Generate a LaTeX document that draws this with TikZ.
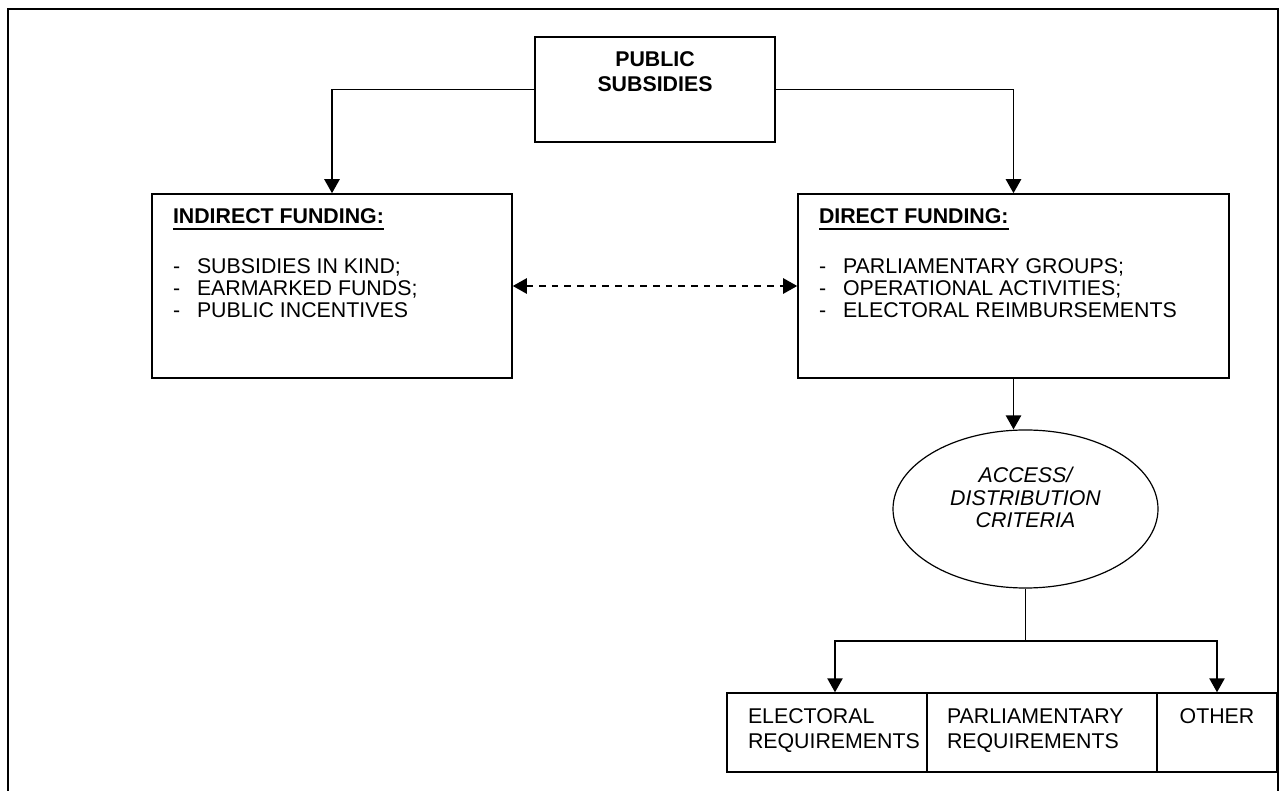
\documentclass[tikz,border=0pt]{standalone}
\usepackage{fontspec}
\setmainfont{Liberation Sans}
\usetikzlibrary{arrows.meta,shapes.geometric}
\newcommand{\ulhead}[1]{\setbox0\hbox{\bfseries #1}\rlap{\rule[-4.6pt]{\wd0}{1.4pt}}\box0}
\newcommand{\itm}[1]{\makebox[18pt][l]{-}#1}
\newcommand{\boxtext}[4]{\parbox[c][#2][t]{#1}{\raggedright\leftskip=#3\relax\rule{0pt}{22.5pt}#4}}
\begin{document}
\begin{tikzpicture}[x=0.75pt,y=-0.75pt,
  box/.style={draw, line width=1.2pt, inner sep=0pt, font=\fontsize{16}{16.3}\selectfont},
  lowbox/.style={draw, line width=1.1pt, inner sep=0pt, font=\fontsize{16}{18.75}\selectfont},
  crit/.style={draw, ellipse, line width=0.9pt, inner sep=0pt, minimum width=198.75pt, minimum height=118.5pt, align=center, font=\fontsize{16}{17}\selectfont\itshape},
  tip/.tip={Triangle[length=10.5pt,width=11.5pt]},
  conn/.style={line width=1.15pt, -tip},
  dconn/.style={line width=1.15pt, tip-tip, dash pattern=on 5pt off 4.5pt},
  plain/.style={line width=1.15pt}]
\useasboundingbox (0,0) rectangle (1279,791);
\clip (0,0) rectangle (1279,791);
\fill[white] (0,0) rectangle (1279,791);
\draw[line width=1.5pt] (8,9) rectangle (1277.5,830);

\node[box, font=\fontsize{16}{18.75}\selectfont\bfseries] (pub) at (655,89.5)
  {\parbox[c][78.75pt][t]{180pt}{\centering\rule{0pt}{22.5pt}PUBLIC\\SUBSIDIES}};

\node[box] (ind) at (332,286)
  {\boxtext{270pt}{138pt}{15.75pt}{\ulhead{INDIRECT FUNDING:}\\[21.2pt]\itm{SUBSIDIES IN KIND;}\\\itm{EARMARKED FUNDS;}\\\itm{PUBLIC INCENTIVES}}};

\node[box] (dir) at (1013.5,286)
  {\boxtext{323.25pt}{138pt}{15.75pt}{\ulhead{DIRECT FUNDING:}\\[21.2pt]\itm{PARLIAMENTARY GROUPS;}\\\itm{OPERATIONAL ACTIVITIES;}\\\itm{ELECTORAL REIMBURSEMENTS}}};

\node[crit] (ell) at (1025.5,509) {ACCESS/\\DISTRIBUTION\\CRITERIA\rule[-17.5pt]{0pt}{0pt}};

\node[lowbox] (elec) at (827,732.5) {\boxtext{150pt}{59.25pt}{15.75pt}{ELECTORAL\\REQUIREMENTS}};
\node[lowbox] (parl) at (1042,732.5) {\boxtext{172.5pt}{59.25pt}{15pt}{PARLIAMENTARY\\REQUIREMENTS}};
\node[lowbox] (oth) at (1217,732.5) {\parbox[c][59.25pt][t]{90pt}{\centering\rule{0pt}{22.5pt}OTHER}};

\draw[conn] (pub.west) -| (ind.north);
\draw[conn] (pub.east) -| (dir.north);
\draw[dconn] (ind.east) -- (dir.west);
\draw[conn] (dir.south) -- (dir.south |- ell.north);
\coordinate (brY) at (0,641);
\coordinate (br) at (ell.south |- brY);
\draw[plain] (ell.south) -- (br);
\draw[conn] (br) -| ([xshift=6pt]elec.north);
\draw[conn] (br) -| (oth.north);
\end{tikzpicture}
\end{document}
